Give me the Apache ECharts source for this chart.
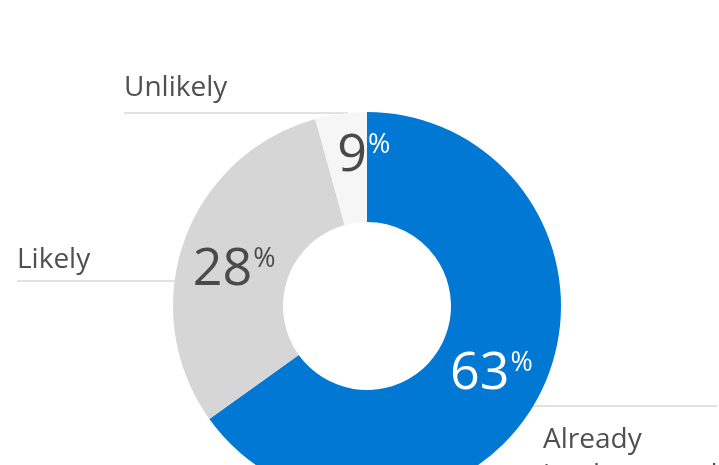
<!DOCTYPE html>
<html><head><meta charset="utf-8">
<script src="https://cdn.jsdelivr.net/npm/echarts@6/dist/echarts.min.js"></script>
<style>html,body{margin:0;padding:0;background:#fff}#c{width:719px;height:465px}</style>
</head><body><div id="c"></div>
<script>
// ---- data ----
const categories = ['Already implemented', 'Likely', 'Unlikely'];
const sliceValues = [65.1, 30.6, 4.3];      // slice sizes as read from the arcs
const percentLabels = [63, 28, 9];          // percentages printed on the slices
// ---- styles ----
const sliceColors = ['#0078D4', '#D6D6D6', '#F6F6F6'];
const numberTone = ['w', 'd', 'd'];
const percentTone = ['w', 'd', 'w'];
const FONT = '"Open Sans", "Noto Sans", sans-serif';
const CX = 367, CY = 306, R0 = 84, R1 = 194;
const innerShift = [[-2, 3], [1, 11], [16, -9]];
const outerSpec = [
  { lineY: 406, textX: 543, textY: 422, side: 'right', endX: 717, va: 'top' },
  { lineY: 281, textX: 17, textY: 260, side: 'left', endX: 17, va: 'middle' },
  { lineY: 113, textX: 124, textY: 88, side: 'left', endX: 124, va: 'middle' }
];

const chart = echarts.init(document.getElementById('c'), null, { renderer: 'canvas' });
const pieData = categories.map((name, i) => ({ name, value: sliceValues[i], itemStyle: { color: sliceColors[i] } }));

chart.setOption({
  animation: false,
  series: [
    {
      type: 'pie',
      center: [CX, CY],
      radius: [R0, R1],
      startAngle: 90,
      clockwise: true,
      silent: true,
      data: pieData,
      label: {
        show: true,
        position: 'inside',
        formatter: p => '{n' + numberTone[p.dataIndex] + '|' + percentLabels[p.dataIndex] + '}{p' + percentTone[p.dataIndex] + '|%}',
        rich: {
          nw: { fontFamily: FONT, fontSize: 52, lineHeight: 56, color: '#ffffff' },
          nd: { fontFamily: FONT, fontSize: 52, lineHeight: 56, color: '#4a4a4a' },
          pw: { fontFamily: FONT, fontSize: 27, lineHeight: 30, verticalAlign: 'top', color: '#ffffff', padding: [4, 0, 0, 1] },
          pd: { fontFamily: FONT, fontSize: 27, lineHeight: 30, verticalAlign: 'top', color: '#4a4a4a', padding: [4, 0, 0, 1] }
        }
      },
      labelLine: { show: false },
      labelLayout: p => ({ dx: innerShift[p.dataIndex][0], dy: innerShift[p.dataIndex][1] })
    },
    {
      type: 'pie',
      center: [CX, CY],
      radius: [R0, R1],
      startAngle: 90,
      clockwise: true,
      silent: true,
      z: 1,
      data: categories.map((name, i) => ({ name, value: sliceValues[i] })),
      itemStyle: { color: 'rgba(0,0,0,0)' },
      label: {
        show: true,
        position: 'outside',
        fontFamily: FONT,
        fontSize: 28,
        lineHeight: 36,
        color: '#505050',
        width: 175,
        overflow: 'break',
        formatter: p => p.name
      },
      labelLine: { show: true, length: 10, length2: 10, lineStyle: { color: '#c4c4c4', width: 1 } },
      labelLayout: p => {
        const s = outerSpec[p.dataIndex];
        const d = s.lineY - CY;
        const ex = Math.sqrt(R1 * R1 - d * d);
        const edgeX = s.side === 'left' ? CX - ex + 1 : CX + ex - 1;
        return {
          x: s.textX, y: s.textY, align: 'left', verticalAlign: s.va,
          labelLinePoints: [[edgeX, s.lineY], [edgeX, s.lineY], [s.endX, s.lineY]]
        };
      }
    }
  ]
});
</script></body></html>
